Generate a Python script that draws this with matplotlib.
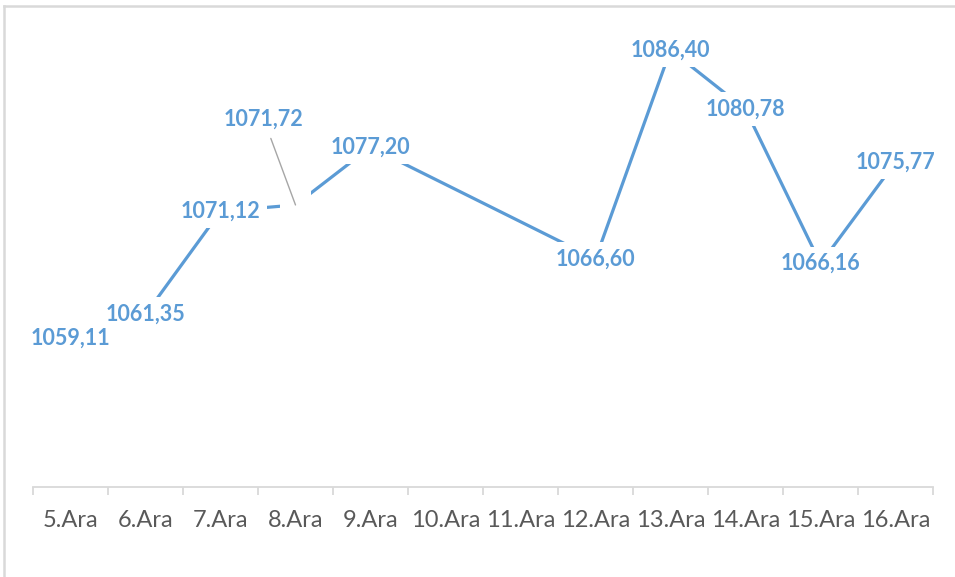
import numpy as np
import matplotlib.pyplot as plt
from matplotlib.lines import Line2D

# data
kategoriler = ['5.Ara', '6.Ara', '7.Ara', '8.Ara', '9.Ara', '10.Ara', '11.Ara',
               '12.Ara', '13.Ara', '14.Ara', '15.Ara', '16.Ara']
degerler = [1059.11, 1061.35, 1071.12, 1071.72, 1077.20, np.nan, np.nan,
            1066.60, 1086.40, 1080.78, 1066.16, 1075.77]

MAVI = '#5B9BD5'
GRI = '#D9D9D9'
FS = 15.5

W, H = 955, 577
fig = plt.figure(figsize=(W / 100, H / 100), dpi=100)
ax = fig.add_axes([33 / W, (H - 487) / H, 900 / W, 475 / H])

x = np.arange(len(kategoriler))
y = np.array(degerler)
ok = ~np.isnan(y)

ax.plot(x[ok], y[ok], color=MAVI, lw=2.3, solid_capstyle='butt', zorder=2)

kutu = dict(boxstyle='square,pad=0.3', fc='white', ec='none')
yazi = dict(fontsize=FS, fontweight='bold', family='Lato', ha='center', va='center')
for i in np.where(ok)[0]:
    etiket = f'{y[i]:.2f}'.replace('.', ',')
    if kategoriler[i] == '8.Ara':
        # label moved up with a leader line, gap left at the point
        ax.text(x[i], y[i], '    ', fontsize=14, family='Lato',
                ha='center', va='center', bbox=kutu, zorder=3)
        ax.annotate(etiket, xy=(x[i], y[i]), xytext=(-23, 62), textcoords='offset points',
                    color=MAVI, bbox=kutu, zorder=4, **yazi,
                    arrowprops=dict(arrowstyle='-', color='#A6A6A6', lw=1,
                                    shrinkA=2, shrinkB=0))
    else:
        # white box under every label first, text on top
        ax.text(x[i], y[i], etiket, color='none', bbox=kutu, zorder=3, **yazi)
        ax.text(x[i], y[i], etiket, color=MAVI, zorder=4, **yazi)

ax.set_xlim(-0.5, len(kategoriler) - 0.5)
ax.set_ylim(1045, 1090)
ax.set_yticks([])
ax.set_xticks(x)
ax.set_xticklabels(kategoriler, fontsize=17, family='Lato', color='#595959')
ax.set_xticks(np.arange(len(kategoriler) + 1) - 0.5, minor=True)
ax.tick_params(axis='x', which='major', length=0, pad=16.5)
ax.tick_params(axis='x', which='minor', length=5.5, width=1.3, color=GRI)

for s in ['top', 'right', 'left']:
    ax.spines[s].set_visible(False)
ax.spines['bottom'].set_color(GRI)
ax.spines['bottom'].set_linewidth(1.3)

# chart area border
fig.add_artist(Line2D([3.5 / W, 3.5 / W], [0, (H - 6) / H], color=GRI, lw=1.8))
fig.add_artist(Line2D([3.5 / W, 1], [(H - 6) / H, (H - 6) / H], color=GRI, lw=1.8))

fig.savefig('out.png', dpi=100, facecolor='white')
